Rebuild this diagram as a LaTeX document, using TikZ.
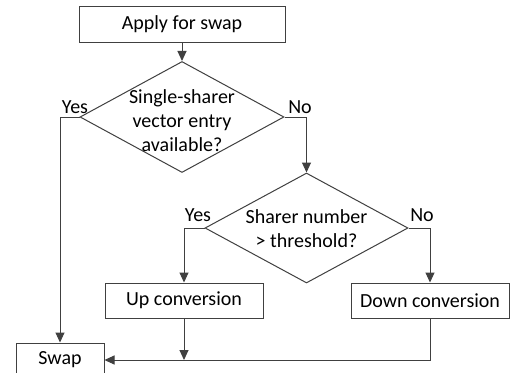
\documentclass[tikz,border=0pt]{standalone}
\usepackage{fontspec}
\setmainfont{Carlito}
\usetikzlibrary{shapes.geometric,arrows.meta}
\definecolor{ln}{RGB}{64,64,64}
\begin{document}
\begin{tikzpicture}[x=1pt,y=-1pt,
  every node/.style={font=\fontsize{20}{24}\selectfont},
  box/.style={draw=ln,line width=1pt,rectangle,inner sep=0pt},
  dia/.style={draw=ln,line width=1pt,diamond,inner sep=0pt},
  conn/.style={draw=ln,line width=1pt},
  arr/.style={conn,-{Triangle[length=10pt,width=9pt]}},
  lbl/.style={inner sep=0pt}]
\useasboundingbox (0,0) rectangle (513,372);
\fill[white] (0,0) rectangle (513,372);
\node[box,minimum width=206pt,minimum height=36pt] (apply) at (182,24.6) {Apply for swap};
\node[dia,minimum width=204pt,minimum height=111pt] (d1) at (182,117) {};
\node[lbl,align=center] (t1) at (182,121) {Single-sharer\\vector entry\\available?};
\node[dia,minimum width=203pt,minimum height=110pt] (d2) at (306.5,228) {};
\node[lbl,align=center] (t2) at (306.5,229) {Sharer number\\> threshold?};
\node[box,minimum width=158pt,minimum height=35pt] (up) at (184,300.5) {Up conversion};
\node[box,minimum width=158pt,minimum height=35pt] (down) at (430,300.5) {Down conversion};
\node[box,minimum width=88pt,minimum height=34pt] (swap) at (60,360) {Swap};
\node[lbl] (y1) at (75,107) {Yes};
\node[lbl] (n1) at (300,107) {No};
\node[lbl] (y2) at (198,215) {Yes};
\node[lbl] (n2) at (422,215) {No};
\coordinate (j) at (184,360);
\draw[arr] (apply) -- (d1);
\draw[arr] (d1.west) -| (swap.north);
\draw[arr] (d1.east) -| (d2.north);
\draw[arr] (d2.west) -| (up.north);
\draw[arr] (d2.east) -| (down.north);
\draw[arr] (up.south) -- (j);
\draw[arr] (down.south) |- (swap.east);
\end{tikzpicture}
\end{document}
